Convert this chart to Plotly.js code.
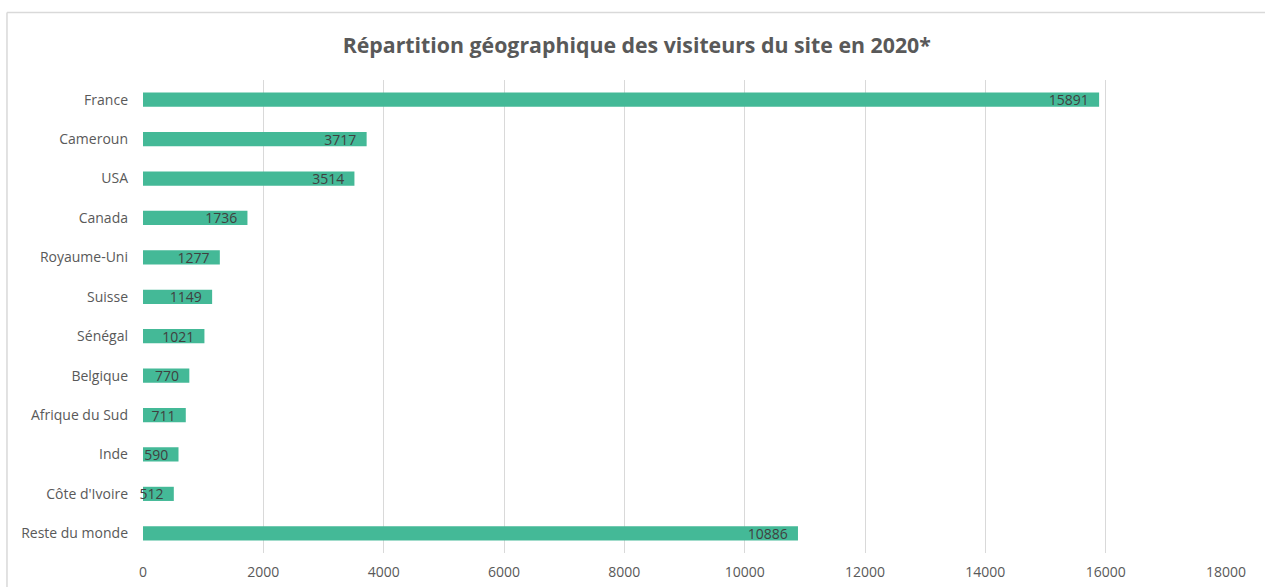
<!DOCTYPE html>
<html>
<head>
<meta charset="utf-8">
<script src="https://cdn.plot.ly/plotly-3.0.1.min.js"></script>
<style>
  html, body { margin: 0; padding: 0; background: #fff; }
  #chart { width: 1266px; height: 587px; }
</style>
</head>
<body>
<div id="chart"></div>
<script>
// Visitors per country, 2020
const pays = ['France', 'Cameroun', 'USA', 'Canada', 'Royaume-Uni', 'Suisse', 'Sénégal',
    'Belgique', 'Afrique du Sud', 'Inde', "Côte d'Ivoire", 'Reste du monde'];
const visiteurs = [15891, 3717, 3514, 1736, 1277, 1149, 1021, 770, 711, 590, 512, 10886];
const xTicks = [0, 2000, 4000, 6000, 8000, 10000, 12000, 14000, 16000, 18000];

const barTrace = {
    x: visiteurs,
    y: pays,
    type: 'bar',
    orientation: 'h',
    width: 0.36,
    marker: { color: '#44b997' },
    texttemplate: '%{x:d}\u00a0\u00a0',
    textposition: 'inside',
    insidetextanchor: 'end',
    constraintext: 'none',
    cliponaxis: false,
    textfont: { family: '"Open Sans", sans-serif', size: 14, color: '#404040' },
    hoverinfo: 'x+y'
};

// Layout - Excel-like look
let layout = {
    width: 1266,
    height: 587,
    margin: { l: 143, r: 40, t: 80, b: 34 },
    paper_bgcolor: '#fff',
    plot_bgcolor: '#fff',
    font: { family: '"Open Sans", sans-serif', size: 14, color: '#595959' },
    title: {
        text: '<b>Répartition géographique des visiteurs du site en 2020*</b>',
        font: { family: '"Open Sans", sans-serif', size: 21.3, color: '#595959' },
        x: 0.503,
        xanchor: 'center',
        y: 0.923,
        yanchor: 'middle'
    },
    xaxis: {
        range: [0, 18000],
        tickvals: xTicks,
        tickformat: 'd',
        showgrid: true,
        gridcolor: '#d9d9d9',
        gridwidth: 1,
        zeroline: false,
        showline: false,
        ticks: '',
        ticklabelstandoff: 9,
        fixedrange: true
    },
    yaxis: {
        autorange: 'reversed',
        showgrid: false,
        zeroline: false,
        showline: false,
        ticks: '',
        ticklabelstandoff: 14,
        fixedrange: true
    },
    shapes: [
        // chart frame (top + left edges, like the cropped Excel border)
        { type: 'line', xref: 'paper', yref: 'paper', x0: -0.1256, x1: 1.036, y0: 1.1427, y1: 1.1427,
          line: { color: '#d9d9d9', width: 1.5 } },
        { type: 'line', xref: 'paper', yref: 'paper', x0: -0.1256, x1: -0.1256, y0: 1.1427, y1: -0.08,
          line: { color: '#d9d9d9', width: 1.5 } }
    ],
    showlegend: false,
    bargap: 0.64
};

Plotly.newPlot('chart', [barTrace], layout, { displayModeBar: false, staticPlot: true });
</script>
</body>
</html>
